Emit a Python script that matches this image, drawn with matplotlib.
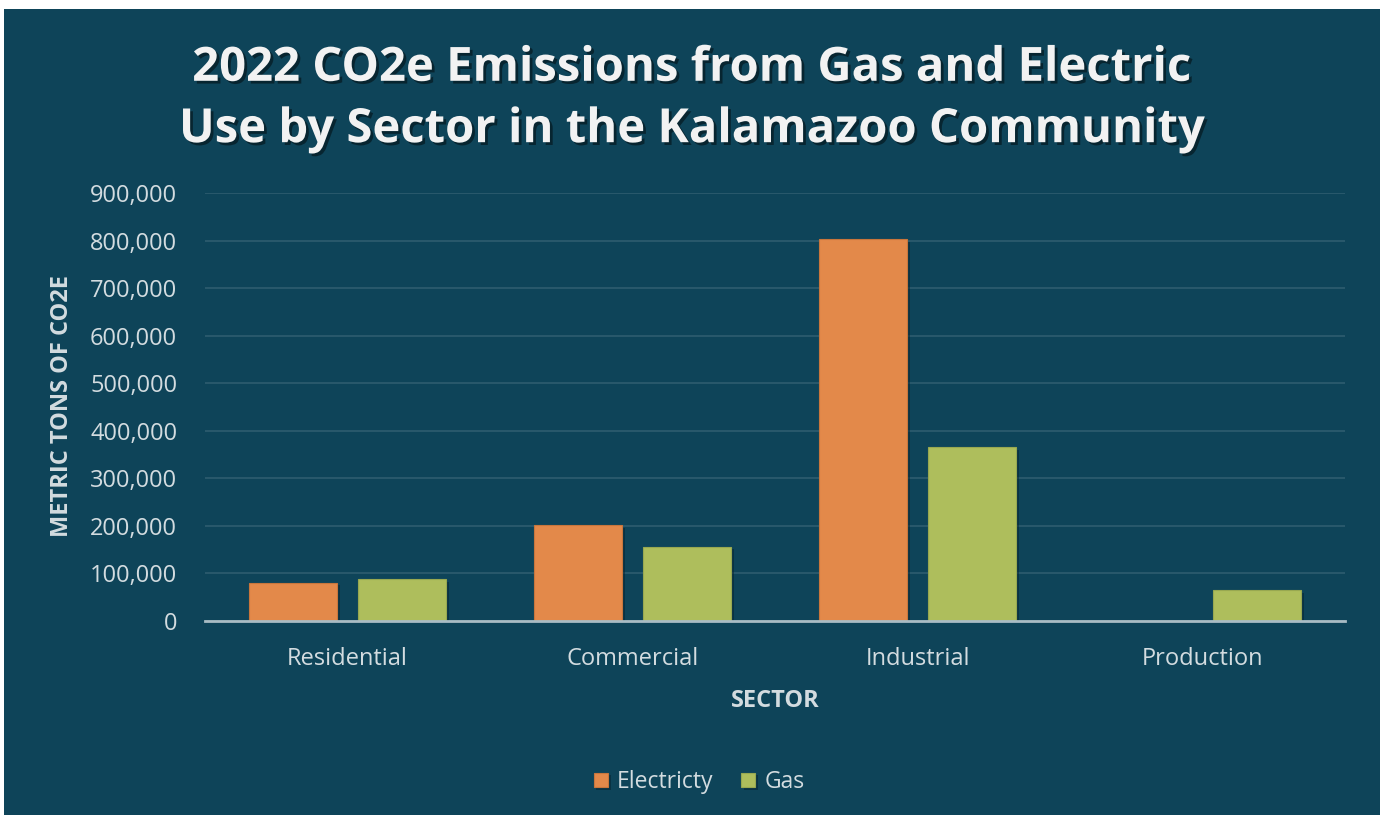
import matplotlib
matplotlib.use("Agg")
import matplotlib.pyplot as plt
import matplotlib.patheffects as pe
from matplotlib.patches import Rectangle
from matplotlib.ticker import FuncFormatter, MultipleLocator
import numpy as np

categories = ["Residential", "Commercial", "Industrial", "Production"]
electricity = [80000, 200800, 802600, 0]
gas = [87100, 155700, 364900, 64600]
series_names = ["Electricty", "Gas"]
title = "2022 CO2e Emissions from Gas and Electric\nUse by Sector in the Kalamazoo Community"
ylabel = "METRIC TONS OF CO2E"
xlabel = "SECTOR"

BG = "#0E4459"
ORANGE = "#E3894A"
GREEN = "#AEBE5C"
GRID = "#2E5D6F"
TXT = "#D3DCE0"

plt.rcParams["font.family"] = ["Open Sans", "DejaVu Sans"]

fig = plt.figure(figsize=(13.83, 8.23), dpi=100, facecolor="white")
fig.patches.append(Rectangle((4/1383, 1 - 815/823), (1380-4)/1383, (815-9)/823,
                             transform=fig.transFigure, facecolor=BG, edgecolor="none", zorder=-10))

ax = fig.add_axes([205/1383, 1 - 620.7/823, (1345-205)/1383, (620.7-193)/823])
ax.set_facecolor(BG)

x = np.arange(len(categories))
w = 0.309
off = 0.191
shadow = [pe.SimplePatchShadow(offset=(2, -2), shadow_rgbFace="#05222e", alpha=0.5), pe.Normal()]
b1 = ax.bar(x - off, electricity, w, color=ORANGE, edgecolor="#c8763c", linewidth=0.8,
            label=series_names[0], zorder=3)
b2 = ax.bar(x + off, gas, w, color=GREEN, edgecolor="#98a850", linewidth=0.8,
            label=series_names[1], zorder=3)
for b in list(b1) + list(b2):
    b.set_path_effects(shadow)

ax.set_xlim(-0.5, len(categories) - 0.5)
ax.set_ylim(0, 900000)
ax.yaxis.set_major_locator(MultipleLocator(100000))
ax.yaxis.set_major_formatter(FuncFormatter(lambda v, p: f"{int(v):,}"))
ax.grid(axis="y", color=GRID, linewidth=1.2, zorder=1)
ax.set_axisbelow(True)
for s in ["top", "right", "left"]:
    ax.spines[s].set_visible(False)
ax.spines["bottom"].set_color("#A9BCC4")
ax.spines["bottom"].set_linewidth(2)
ax.spines["bottom"].set_zorder(4)
ax.tick_params(axis="both", length=0, colors=TXT, labelsize=17)
ax.tick_params(axis="y", pad=20)
ax.tick_params(axis="x", pad=19)
ax.set_xticks(x)
ax.set_xticklabels(categories)

fig.text(62/1383, 1 - 406/823, ylabel, rotation=90, ha="center", va="center",
         color=TXT, fontsize=17, fontweight="bold")
fig.text(775/1383, 1 - 701/823, xlabel, ha="center", va="center",
         color=TXT, fontsize=17, fontweight="bold")

t = fig.text(692/1383, 1 - 99/823, title, ha="center", va="center", color="#F2F2F2",
             fontsize=34, fontweight="bold", linespacing=1.4)
t.set_path_effects([pe.withSimplePatchShadow(offset=(2, -2), shadow_rgbFace="#000000", alpha=0.45)])

leg = fig.legend(handles=[b1, b2], labels=series_names, loc="center",
                 bbox_to_anchor=(699/1383, 1 - 782/823), ncol=2, frameon=False,
                 fontsize=16.5, handlelength=0.62, handleheight=0.62, handletextpad=0.4,
                 columnspacing=1.2)
for txt in leg.get_texts():
    txt.set_color(TXT)

fig.savefig("out.png", dpi=100, facecolor="white")
